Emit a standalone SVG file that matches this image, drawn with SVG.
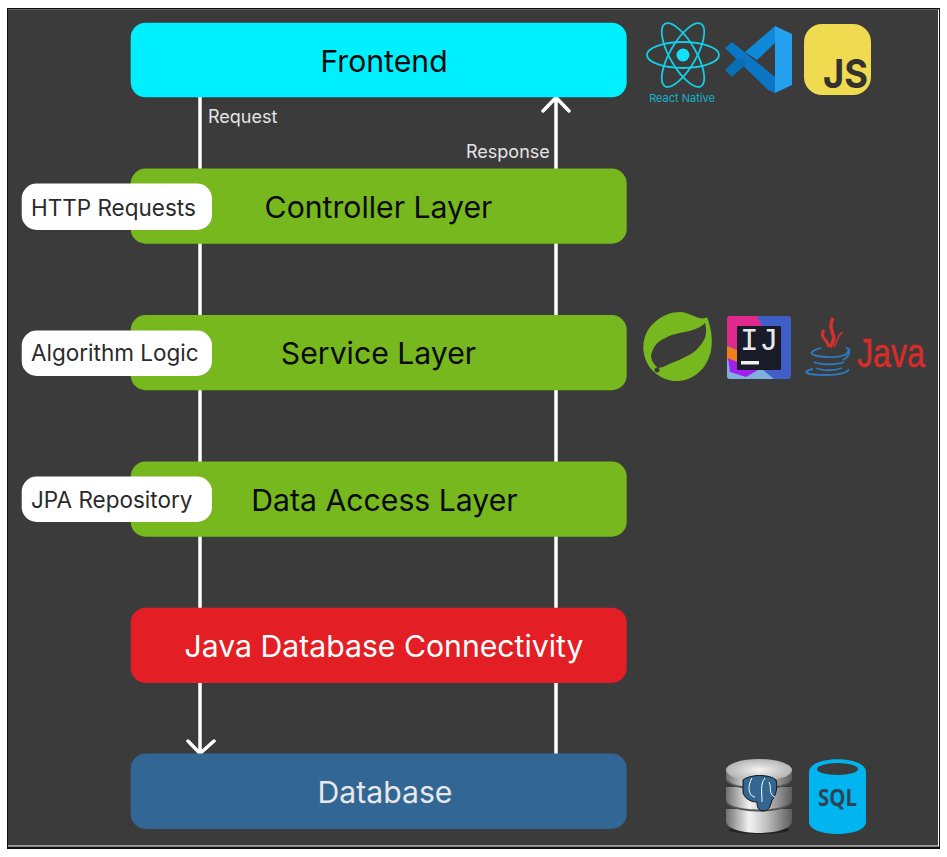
<svg xmlns="http://www.w3.org/2000/svg" width="947" height="857" viewBox="0 0 947 857">
<defs>
<style>
text{font-family:Inter,"Noto Sans",sans-serif}
.box{stroke:none}
.lbl{font-size:30.200px;text-anchor:middle;fill:#0a0a0a}
.pill{fill:#fff}
.ptxt{font-size:22.500px;fill:#2a2a2a}
.flow{font-size:18px;fill:#e4e4e4}
.wire{stroke:#fff;stroke-width:3.500;fill:none;stroke-linecap:round;stroke-linejoin:round}
.cup{fill:none;stroke:#2d7ac0;stroke-width:1.800}
.flame{fill:none;stroke:#d8302e}
</style>
<linearGradient id="steel" x1="0" x2="1" y1="0" y2="0">
<stop offset="0" stop-color="#707070"/><stop offset=".35" stop-color="#f2f2f2"/><stop offset=".6" stop-color="#c4c4c4"/><stop offset="1" stop-color="#5c5c5c"/>
</linearGradient>
<radialGradient id="disc" cx=".5" cy=".5" r=".6">
<stop offset="0" stop-color="#f4f4f4"/><stop offset="1" stop-color="#a8a8a8"/>
</radialGradient>
</defs>
<rect width="947" height="857" fill="#fff"/>
<rect x="7" y="8" width="933" height="841" fill="#111"/>
<rect x="8" y="9.500" width="931" height="837" fill="#fff"/>
<rect x="8" y="9.500" width="930" height="836" fill="#3b3b3b"/>

<g id="connectors">
<path class="wire" d="M200 97V753M188 741L200 753.500L214 741"/>
<path class="wire" d="M556 754V98M543 111L556 97.500L569 111"/>
</g>

<g id="frontend"><rect class="box" x="130.700" y="22.700" width="496" height="74.600" rx="15" fill="#00f0ff"/><text class="lbl" x="384" y="72">Frontend</text></g>
<g id="request-label"><text class="flow" x="208" y="123">Request</text></g>
<g id="response-label"><text class="flow" x="466" y="158">Response</text></g>
<g id="controller"><rect class="box" x="130.700" y="168.500" width="496" height="75.200" rx="15" fill="#76b81e"/><text class="lbl" x="378.500" y="218">Controller Layer</text></g>
<g id="http-requests"><rect class="pill" x="21.700" y="183.500" width="190.300" height="46.500" rx="15"/><text class="ptxt" x="31" y="215.500">HTTP Requests</text></g>
<g id="service"><rect class="box" x="130.700" y="315" width="496" height="75.200" rx="15" fill="#76b81e"/><text class="lbl" x="378.500" y="364">Service Layer</text></g>
<g id="algorithm-logic"><rect class="pill" x="21.700" y="330.500" width="190.300" height="45.500" rx="15"/><text class="ptxt" x="31" y="360.500">Algorithm Logic</text></g>
<g id="data-access"><rect class="box" x="130.700" y="461.500" width="496" height="75.200" rx="15" fill="#76b81e"/><text class="lbl" x="384.500" y="511">Data Access Layer</text></g>
<g id="jpa-repository"><rect class="pill" x="21.700" y="476.500" width="190.300" height="45.500" rx="15"/><text class="ptxt" x="31" y="507.500">JPA Repository</text></g>
<g id="jdbc"><rect class="box" x="130.700" y="607.700" width="496" height="75.200" rx="15" fill="#e31e24"/><text class="lbl" x="384" y="657" style="fill:#fff">Java Database Connectivity</text></g>
<g id="database"><rect class="box" x="130.700" y="753.500" width="496" height="75.500" rx="15" fill="#326694"/><text class="lbl" x="385" y="803" style="fill:#e8e8e8">Database</text></g>

<g id="react-native-logo" fill="none" stroke="#12cfe6" stroke-width="1.800">
<ellipse cx="683" cy="55" rx="36" ry="13"/>
<ellipse cx="683" cy="55" rx="36" ry="13" transform="rotate(60 683 55)"/>
<ellipse cx="683" cy="55" rx="36" ry="13" transform="rotate(120 683 55)"/>
<circle cx="683" cy="55" r="6.500" fill="#12e0f5" stroke="none"/>
<text x="682" y="102" font-size="11" text-anchor="middle" fill="#12b4cc" stroke="none">React Native</text>
</g>
<g id="vscode-logo">
<path d="M725 48L732 42L775 77V93L768 90Z" fill="#0a76c4"/>
<path d="M745 52L775 26V43L757 60Z" fill="#0f8ad8"/>
<path d="M745 65L732 77L725 70L737 58L745 60Z" fill="#0a6fb5"/>
<path d="M775 26L792 34V85L775 93Z" fill="#24a0ee"/>
</g>
<g id="js-logo">
<rect x="804" y="24" width="67" height="71" rx="18" fill="#f0da50"/>
<text x="823" y="88" font-size="40" font-weight="700" fill="#33322e" textLength="45" lengthAdjust="spacingAndGlyphs">JS</text>
</g>
<g id="spring-logo">
<path d="M707 317C716 340 712 362 698 373C684 385 665 383 653 371C640 358 640 335 654 323C662 315 672 312 680 312C690 312 700 322 707 317Z" fill="#76b81e"/>
<path d="M658 368C651 362 650 356 652 352C655 343 661 340 667 337C680 331 695 333 705 323C707 330 706 336 704 340C698 350 692 354 685 357C676 362 668 364 663 367Z" fill="#3b3b3b"/>
<circle cx="657" cy="370" r="2.500" fill="#3b3b3b"/>
</g>
<g id="intellij-logo">
<rect x="727" y="316" width="64" height="63" rx="3" fill="#3f5fc6"/>
<path d="M727 319Q727 316 730 316H757L762 326H737V350L727 345Z" fill="#e0298c"/>
<path d="M727 346L737 350V362L727 360Z" fill="#f08018"/>
<path d="M727 360L737 362V370H763L774 379H730Q727 379 727 376Z" fill="#7fb0e0"/>
<path d="M728 358L737 362V370H758L746 377L730 372Z" fill="#a020f0"/>
<rect x="737" y="326" width="44" height="44" rx="1" fill="#191b28"/>
<text x="740" y="350" font-size="31" textLength="38" fill="#e8e8e8" style="font-family:'Liberation Mono',monospace">IJ</text>
<rect x="741" y="361" width="18" height="3.500" fill="#f0f0f0"/>
</g>
<g id="java-logo">
<path class="flame" stroke-width="3.500" d="M833 318C826 332 840 334 830 347"/>
<path class="flame" stroke-width="3" d="M824 330C818 338 830 340 828 347"/>
<path class="flame" stroke-width="1.500" d="M843 332C836 336 838 342 834 347"/>
<path class="cup" d="M821 348C806 352 810 356 826 357C838 358 850 355 848 350"/>
<path class="cup" d="M846 348C852 348 850 356 843 360"/>
<path class="cup" d="M814 362C820 365 838 365 844 362"/>
<path class="cup" d="M816 368C822 371 834 371 842 368"/>
<path class="cup" d="M813 369C800 372 806 375 826 375C840 375 850 372 848 369"/>
<text x="857" y="367" font-size="40" fill="#d82c2a" stroke="#d82c2a" stroke-width=".5" textLength="68" lengthAdjust="spacingAndGlyphs" style="font-family:'Liberation Sans',sans-serif">Java</text>
</g>
<g id="postgres-logo">
<ellipse cx="759" cy="830" rx="30" ry="4" fill="#222"/>
<path d="M726 809H792V821C792 837 726 837 726 821Z" fill="url(#steel)"/>
<path d="M726 787H792V801C792 815 726 815 726 801Z" fill="#555"/>
<path d="M726 787H792V799C792 813 726 813 726 799Z" fill="url(#steel)"/>
<path d="M726 770H792V779C792 793 726 793 726 779Z" fill="#555"/>
<path d="M726 770H792V777C792 791 726 791 726 777Z" fill="url(#steel)"/>
<ellipse cx="759" cy="770" rx="33" ry="11" fill="url(#disc)"/>
<path d="M743 780C750 774 770 774 776 780C778 786 776 796 772 800C770 808 768 811 763 811C758 811 757 806 757 802C750 802 744 798 743 792Z" fill="#336791" stroke="#111" stroke-width="1"/>
<path d="M752 778C746 788 750 797 755 797M765 778C760 784 762 792 762 802M769 782C772 788 768 794 775 797" fill="none" stroke="#fff" stroke-width="1"/>
</g>
<g id="sql-logo">
<path d="M809 772C809 755 866 755 866 772V822C866 838 809 838 809 822Z" fill="#00b4ef"/>
<ellipse cx="837.500" cy="769" rx="20.500" ry="6" fill="#3b3b3b"/>
<text x="818" y="806" font-size="24" font-weight="700" fill="#2c4555" textLength="39" lengthAdjust="spacingAndGlyphs" style="font-family:'Open Sans',sans-serif">SQL</text>
</g>
</svg>
